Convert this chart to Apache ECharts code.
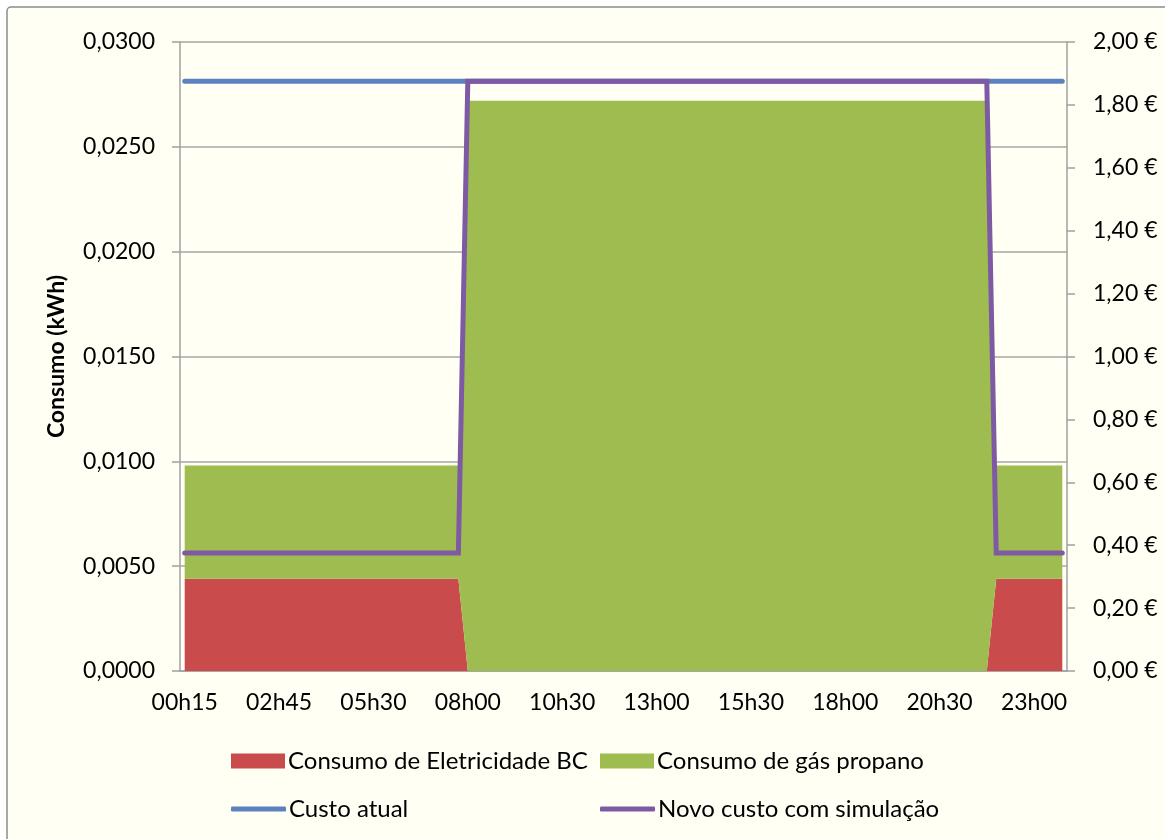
<!DOCTYPE html>
<html>
<head>
<meta charset="utf-8">
<script src="https://cdn.jsdelivr.net/npm/echarts@6/dist/echarts.min.js"></script>
<style>
html,body{margin:0;padding:0;background:#ffffff;}
#chart{width:1165px;height:839px;}
</style>
</head>
<body>
<div id="chart"></div>
<script>
var times = ['00h15','00h30','00h45','01h00','01h15','01h30','01h45','02h00','02h15','02h30',
'02h45','03h15','03h30','03h45','04h00','04h15','04h30','04h45','05h00','05h15',
'05h30','05h45','06h00','06h15','06h30','06h45','07h00','07h15','07h30','07h45',
'08h00','08h15','08h30','08h45','09h00','09h15','09h30','09h45','10h00','10h15',
'10h30','10h45','11h00','11h15','11h30','11h45','12h00','12h15','12h30','12h45',
'13h00','13h15','13h30','13h45','14h00','14h15','14h30','14h45','15h00','15h15',
'15h30','15h45','16h00','16h15','16h30','16h45','17h00','17h15','17h30','17h45',
'18h00','18h15','18h30','18h45','19h00','19h15','19h30','19h45','20h00','20h15',
'20h30','20h45','21h00','21h15','21h30','21h45','22h00','22h15','22h30','22h45',
'23h00','23h15','23h30','23h45'];

var eletricidadeBC = [0.0044,0.0044,0.0044,0.0044,0.0044,0.0044,0.0044,0.0044,0.0044,0.0044,
0.0044,0.0044,0.0044,0.0044,0.0044,0.0044,0.0044,0.0044,0.0044,0.0044,
0.0044,0.0044,0.0044,0.0044,0.0044,0.0044,0.0044,0.0044,0.0044,0.0044,
0,0,0,0,0,0,0,0,0,0,
0,0,0,0,0,0,0,0,0,0,
0,0,0,0,0,0,0,0,0,0,
0,0,0,0,0,0,0,0,0,0,
0,0,0,0,0,0,0,0,0,0,
0,0,0,0,0,0,0.0044,0.0044,0.0044,0.0044,
0.0044,0.0044,0.0044,0.0044];

var gasPropano = [0.0054,0.0054,0.0054,0.0054,0.0054,0.0054,0.0054,0.0054,0.0054,0.0054,
0.0054,0.0054,0.0054,0.0054,0.0054,0.0054,0.0054,0.0054,0.0054,0.0054,
0.0054,0.0054,0.0054,0.0054,0.0054,0.0054,0.0054,0.0054,0.0054,0.0054,
0.0272,0.0272,0.0272,0.0272,0.0272,0.0272,0.0272,0.0272,0.0272,0.0272,
0.0272,0.0272,0.0272,0.0272,0.0272,0.0272,0.0272,0.0272,0.0272,0.0272,
0.0272,0.0272,0.0272,0.0272,0.0272,0.0272,0.0272,0.0272,0.0272,0.0272,
0.0272,0.0272,0.0272,0.0272,0.0272,0.0272,0.0272,0.0272,0.0272,0.0272,
0.0272,0.0272,0.0272,0.0272,0.0272,0.0272,0.0272,0.0272,0.0272,0.0272,
0.0272,0.0272,0.0272,0.0272,0.0272,0.0272,0.0054,0.0054,0.0054,0.0054,
0.0054,0.0054,0.0054,0.0054];

var custoAtual = [1.875,1.875,1.875,1.875,1.875,1.875,1.875,1.875,1.875,1.875,
1.875,1.875,1.875,1.875,1.875,1.875,1.875,1.875,1.875,1.875,
1.875,1.875,1.875,1.875,1.875,1.875,1.875,1.875,1.875,1.875,
1.875,1.875,1.875,1.875,1.875,1.875,1.875,1.875,1.875,1.875,
1.875,1.875,1.875,1.875,1.875,1.875,1.875,1.875,1.875,1.875,
1.875,1.875,1.875,1.875,1.875,1.875,1.875,1.875,1.875,1.875,
1.875,1.875,1.875,1.875,1.875,1.875,1.875,1.875,1.875,1.875,
1.875,1.875,1.875,1.875,1.875,1.875,1.875,1.875,1.875,1.875,
1.875,1.875,1.875,1.875,1.875,1.875,1.875,1.875,1.875,1.875,
1.875,1.875,1.875,1.875];

var novoCusto = [0.375,0.375,0.375,0.375,0.375,0.375,0.375,0.375,0.375,0.375,
0.375,0.375,0.375,0.375,0.375,0.375,0.375,0.375,0.375,0.375,
0.375,0.375,0.375,0.375,0.375,0.375,0.375,0.375,0.375,0.375,
1.875,1.875,1.875,1.875,1.875,1.875,1.875,1.875,1.875,1.875,
1.875,1.875,1.875,1.875,1.875,1.875,1.875,1.875,1.875,1.875,
1.875,1.875,1.875,1.875,1.875,1.875,1.875,1.875,1.875,1.875,
1.875,1.875,1.875,1.875,1.875,1.875,1.875,1.875,1.875,1.875,
1.875,1.875,1.875,1.875,1.875,1.875,1.875,1.875,1.875,1.875,
1.875,1.875,1.875,1.875,1.875,1.875,0.375,0.375,0.375,0.375,
0.375,0.375,0.375,0.375];

var names = ['Consumo de Eletricidade BC','Consumo de gás propano','Custo atual','Novo custo com simulação'];
var colors = ['#C94B4C','#9EBC50','#5B82BE','#7E5AA5'];

var FONT = 'Lato';
var grey = '#A0A0A0';

var chart = echarts.init(document.getElementById('chart'), null, {renderer:'canvas'});

function legendAt(idx, left, top, isLine){
  return {
    data:[names[idx]], left:left, top:top, orient:'horizontal',
    icon: isLine ? 'roundRect' : 'rect',
    itemWidth: isLine ? 55 : 54, itemHeight: isLine ? 5 : 15,
    textStyle:{fontFamily:FONT, fontSize:24, color:'#000', lineHeight:30, padding:[0,0,0,-2]},
    padding:0, selectedMode:false
  };
}

chart.setOption({
  backgroundColor:'transparent',
  animation:false,
  color: colors,
  graphic:[{
    type:'rect', z:-100, silent:true,
    shape:{x:7, y:7, width:1300, height:1000, r:4},
    style:{fill:'#FFFFF4', stroke:'#8C8C8C', lineWidth:1.5}
  }],
  grid:{left:180, right:98, top:42, bottom:168},
  legend:[
    legendAt(0, 231, 746, false),
    legendAt(1, 600, 746, false),
    legendAt(2, 231, 794, true),
    legendAt(3, 600, 794, true)
  ],
  xAxis:{
    type:'category', data:times, boundaryGap:true,
    axisLine:{lineStyle:{color:grey, width:1.5}},
    axisTick:{interval:0, length:7, lineStyle:{color:grey, width:1.5}},
    axisLabel:{interval:9, margin:20, fontFamily:FONT, fontSize:23, color:'#000'},
    splitLine:{show:false}
  },
  yAxis:[{
    type:'value', min:0, max:0.03, interval:0.005, position:'left',
    name:'Consumo (kWh)', nameLocation:'middle', nameRotate:90, nameGap:112,
    nameTextStyle:{fontFamily:FONT, fontSize:23, fontWeight:'bold', color:'#000'},
    axisLine:{show:true, lineStyle:{color:grey, width:1.5}},
    axisTick:{show:true, length:8, lineStyle:{color:grey, width:1.5}},
    axisLabel:{margin:25, fontFamily:FONT, fontSize:23, color:'#000',
      formatter:function(v){return v.toFixed(4).replace('.',',');}},
    splitLine:{show:true, lineStyle:{color:'#A6A6A6', width:1.5}}
  },{
    type:'value', min:0, max:2, interval:0.2, position:'right',
    axisLine:{show:true, lineStyle:{color:grey, width:1.5}},
    axisTick:{show:true, length:8, lineStyle:{color:grey, width:1.5}},
    axisLabel:{margin:26, fontFamily:FONT, fontSize:23, color:'#000',
      formatter:function(v){return v.toFixed(2).replace('.',',')+' €';}},
    splitLine:{show:false}
  }],
  series:[{
    name:names[0], type:'line', stack:'consumo', yAxisIndex:0, data:eletricidadeBC,
    symbol:'none', lineStyle:{width:0}, areaStyle:{color:colors[0], opacity:1}, z:2
  },{
    name:names[1], type:'line', stack:'consumo', yAxisIndex:0, data:gasPropano,
    symbol:'none', lineStyle:{width:0}, areaStyle:{color:colors[1], opacity:1}, z:2
  },{
    name:names[2], type:'line', yAxisIndex:1, data:custoAtual,
    symbol:'none', lineStyle:{width:5, color:colors[2], cap:'round'}, z:3
  },{
    name:names[3], type:'line', yAxisIndex:1, data:novoCusto,
    symbol:'none', lineStyle:{width:5, color:colors[3], cap:'round', join:'miter'}, z:4
  }]
});
</script>
</body>
</html>
